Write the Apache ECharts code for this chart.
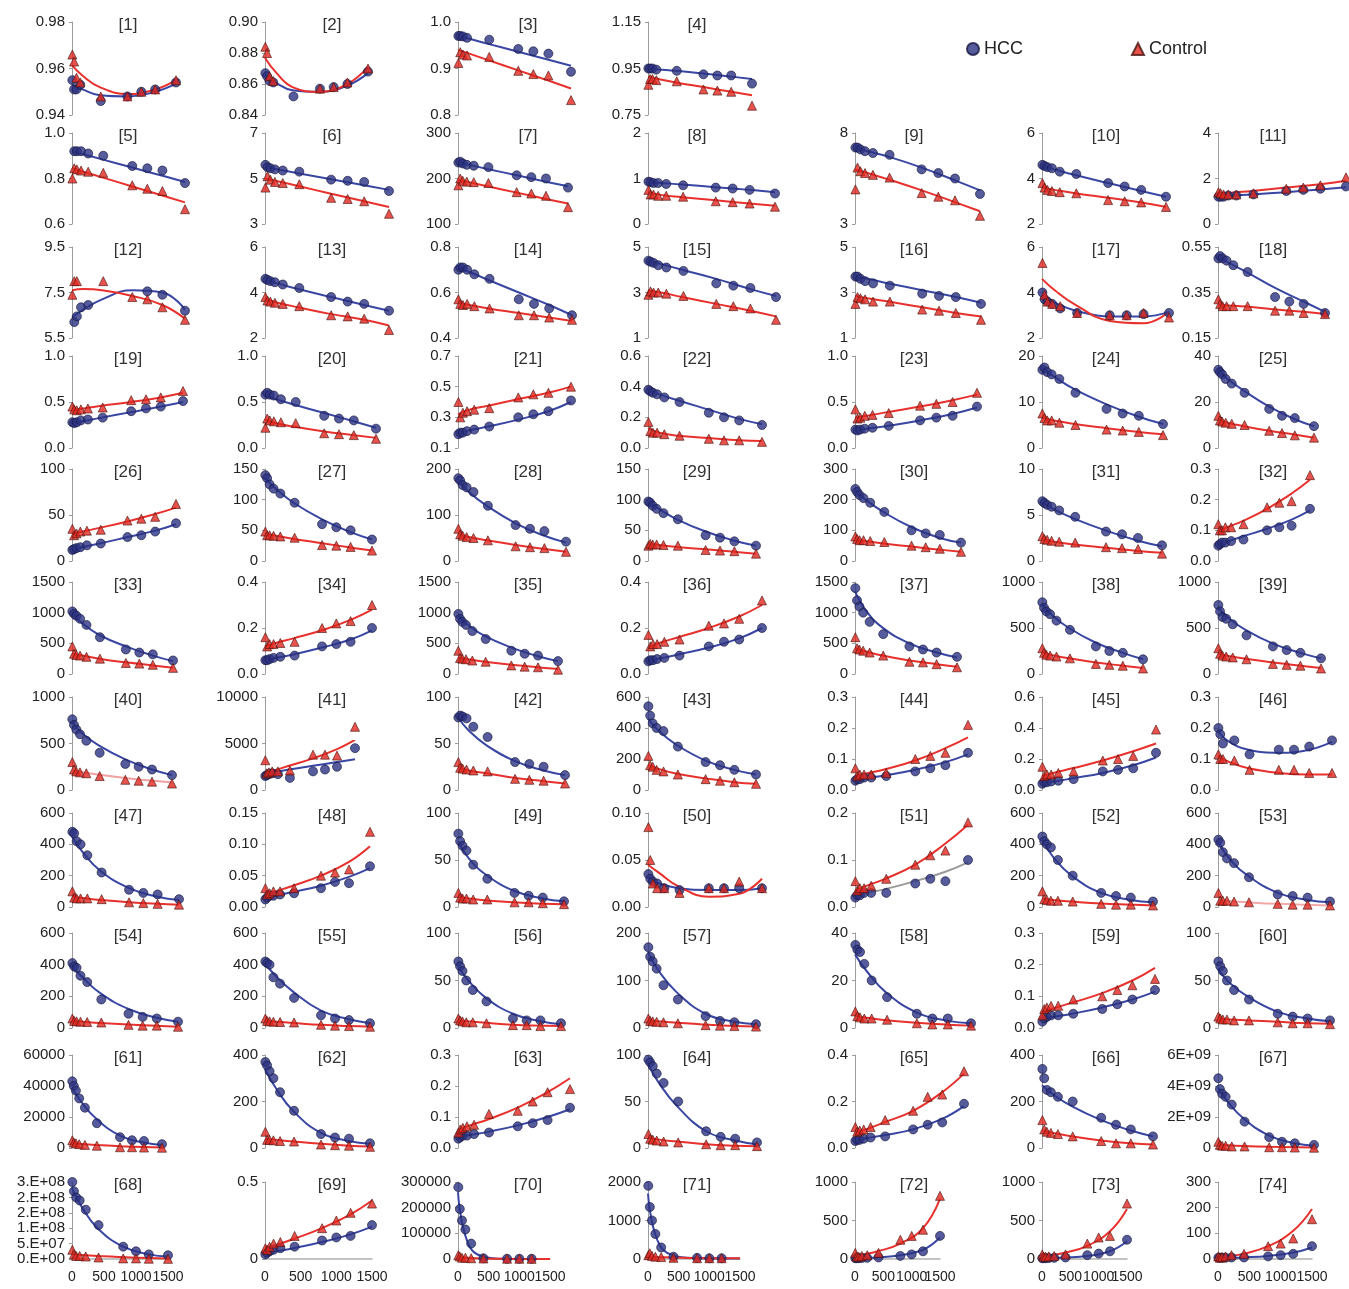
<!DOCTYPE html>
<html><head><meta charset="utf-8">
<script src="https://cdn.jsdelivr.net/npm/echarts@6/dist/echarts.min.js"></script>
<style>html,body{margin:0;padding:0;background:#fff}#c{width:1349px;height:1289px}</style>
</head><body><div id="c"></div>
<script>
// ---------- DATA ----------
// x positions (days) of the sampled points and of the trend-line knots
const X  = [5, 30, 65, 120, 215, 415, 800, 1000, 1200, 1500];
const TX = [0, 150, 400, 800, 1200, 1500];
const xTickValues = [0, 500, 1000, 1500];
const xTickLabels = ['0', '500', '1000', '1500'];
const seriesNames = ['HCC', 'Control'];

// y axis [min, max, step] per panel
const yRange = [
[0.94,0.98,0.02],[0.84,0.90,0.02],[0.8,1.0,0.1],[0.75,1.15,0.2],
[0.6,1.0,0.2],[3,7,2],[100,300,100],[0,2,1],[3,8,5],[2,6,2],[0,4,2],
[5.5,9.5,2],[2,6,2],[0.4,0.8,0.2],[1,5,2],[1,5,2],[2,6,2],[0.15,0.55,0.2],
[0,1,0.5],[0,1,0.5],[0.1,0.7,0.2],[0,0.6,0.2],[0,1,0.5],[0,20,10],[0,40,20],
[0,100,50],[0,150,50],[0,200,100],[0,150,50],[0,300,100],[0,10,5],[0,0.3,0.1],
[0,1500,500],[0,0.4,0.2],[0,1500,500],[0,0.4,0.2],[0,1500,500],[0,1000,500],[0,1000,500],
[0,1000,500],[0,10000,5000],[0,100,50],[0,600,200],[0,0.3,0.1],[0,0.6,0.2],[0,0.3,0.1],
[0,600,200],[0,0.15,0.05],[0,100,50],[0,0.1,0.05],[0,0.2,0.1],[0,600,200],[0,600,200],
[0,600,200],[0,600,200],[0,100,50],[0,200,100],[0,40,20],[0,0.3,0.1],[0,100,50],
[0,60000,20000],[0,400,200],[0,0.3,0.1],[0,100,50],[0,0.4,0.2],[0,400,200],[0,6e9,2e9],
[0,2.5e8,5e7],[0,0.5,0.5],[0,300000,100000],[0,2000,1000],[0,1000,500],[0,1000,500],[0,300,100]
];
// y tick labels per panel (bottom to top)
const yLabels = [
['0.94','0.96','0.98'],['0.84','0.86','0.88','0.90'],['0.8','0.9','1.0'],['0.75','0.95','1.15'],
['0.6','0.8','1.0'],['3','5','7'],['100','200','300'],['0','1','2'],['3','8'],['2','4','6'],['0','2','4'],
['5.5','7.5','9.5'],['2','4','6'],['0.4','0.6','0.8'],['1','3','5'],['1','3','5'],['2','4','6'],['0.15','0.35','0.55'],
['0.0','0.5','1.0'],['0.0','0.5','1.0'],['0.1','0.3','0.5','0.7'],['0.0','0.2','0.4','0.6'],['0.0','0.5','1.0'],['0','10','20'],['0','20','40'],
['0','50','100'],['0','50','100','150'],['0','100','200'],['0','50','100','150'],['0','100','200','300'],['0','5','10'],['0.0','0.1','0.2','0.3'],
['0','500','1000','1500'],['0.0','0.2','0.4'],['0','500','1000','1500'],['0.0','0.2','0.4'],['0','500','1000','1500'],['0','500','1000'],['0','500','1000'],
['0','500','1000'],['0','5000','10000'],['0','50','100'],['0','200','400','600'],['0.0','0.1','0.2','0.3'],['0.0','0.2','0.4','0.6'],['0.0','0.1','0.2','0.3'],
['0','200','400','600'],['0.00','0.05','0.10','0.15'],['0','50','100'],['0.00','0.05','0.10'],['0.0','0.1','0.2'],['0','200','400','600'],['0','200','400','600'],
['0','200','400','600'],['0','200','400','600'],['0','50','100'],['0','100','200'],['0','20','40'],['0.0','0.1','0.2','0.3'],['0','50','100'],
['0','20000','40000','60000'],['0','200','400'],['0.0','0.1','0.2','0.3'],['0','50','100'],['0.0','0.2','0.4'],['0','200','400'],['0','2E+09','4E+09','6E+09'],
['0.E+00','5.E+07','1.E+08','2.E+08','2.E+08','3.E+08'],['0','0.5'],['0','100000','200000','300000'],['0','1000','2000'],['0','500','1000'],['0','500','1000'],['0','100','200','300']
];

// HCC points at X
const hcc = [
[0.955,0.951,0.951,0.953,null,0.946,0.948,0.950,0.951,0.954],
[0.867,0.865,0.862,0.861,null,0.852,0.857,0.858,0.860,0.868],
[0.970,0.970,0.969,0.966,null,0.962,0.942,0.937,0.932,0.893],
[0.950,0.950,0.950,0.945,null,0.940,0.925,0.920,0.920,0.885],
[null,0.920,0.920,0.920,0.910,0.900,0.855,0.845,0.835,0.780],
[5.6,5.5,5.45,5.4,5.35,5.3,4.95,4.9,4.85,4.45],
[235,237,233,230,228,225,207,203,200,180],
[0.93,0.92,0.90,0.90,0.88,0.85,0.80,0.78,0.75,0.67],
[7.2,7.2,7.1,7.0,6.9,6.8,6.0,5.8,5.5,4.65],
[4.6,4.55,4.5,4.45,4.3,4.2,3.8,3.65,3.5,3.2],
[1.2,1.2,1.2,1.25,1.25,1.3,1.45,1.5,1.55,1.65],
[null,6.2,6.45,6.85,6.95,null,null,7.55,7.4,6.7],
[4.6,4.55,4.5,4.45,4.35,4.2,3.8,3.6,3.5,3.2],
[0.70,0.71,0.71,0.70,0.68,0.66,0.57,0.55,0.53,0.50],
[4.4,4.35,4.3,4.2,4.1,3.95,3.4,3.3,3.2,2.8],
[3.7,3.7,3.6,3.5,3.4,3.3,2.95,2.85,2.8,2.5],
[4.0,3.7,3.6,3.5,3.3,3.1,3.0,3.0,3.05,3.1],
[0.50,0.51,0.50,0.49,0.47,0.44,0.33,0.31,0.30,0.26],
[0.28,0.27,0.28,0.30,0.31,0.33,0.40,0.43,0.45,0.51],
[0.58,0.60,0.58,0.57,0.53,0.50,0.35,0.32,0.30,0.21],
[0.19,0.20,0.20,0.21,0.22,0.24,0.30,0.32,0.34,0.41],
[0.38,0.37,0.36,0.35,0.33,0.30,0.23,0.20,0.18,0.15],
[0.20,0.19,0.20,0.21,0.22,0.24,0.30,0.33,0.35,0.45],
[17,17.5,16.5,16,15,12,8.5,7.5,7,5.2],
[34,33,32,30,28,24,17,14,13,9.5],
[12,13,14,15,17,19,26,28,32,41],
[140,135,125,118,110,95,60,55,50,35],
[180,175,165,160,150,120,78,70,65,42],
[97,95,90,85,78,68,42,38,32,25],
[235,225,215,205,190,160,100,90,85,60],
[6.5,6.3,6.1,5.9,5.5,4.8,3.2,2.9,2.5,1.7],
[0.05,0.055,0.06,0.06,0.065,0.07,0.10,0.11,0.115,0.17],
[1020,980,950,900,800,600,400,350,320,220],
[0.06,0.06,0.065,0.07,0.075,0.08,0.12,0.13,0.14,0.20],
[980,900,850,800,700,570,380,330,300,210],
[0.055,0.06,0.06,0.065,0.07,0.08,0.12,0.14,0.15,0.20],
[1400,1200,1100,1000,850,650,450,400,350,280],
[780,720,680,650,580,480,300,250,230,160],
[750,680,620,600,540,420,300,260,230,170],
[760,700,650,600,530,400,280,250,220,160],
[1500,1600,1700,1800,1700,1300,2000,2200,2500,4500],
[78,80,79,77,68,57,30,28,25,16],
[540,480,430,400,380,280,180,160,130,100],
[0.03,0.035,0.035,0.04,0.04,0.045,0.06,0.07,0.08,0.12],
[0.04,0.05,0.05,0.055,0.06,0.07,0.12,0.13,0.14,0.24],
[0.20,0.18,0.15,null,0.16,0.115,0.13,0.13,0.14,0.16],
[480,470,420,400,330,220,110,90,80,50],
[0.012,0.015,0.018,0.018,0.02,0.022,0.03,0.04,0.038,0.065],
[78,70,65,60,45,30,15,12,10,6],
[0.035,0.03,0.027,0.025,0.02,0.018,0.02,0.02,0.02,0.02],
[0.02,0.025,0.025,0.03,0.03,0.03,0.05,0.06,0.055,0.10],
[450,420,400,380,300,200,90,70,60,35],
[430,410,350,310,280,190,80,70,60,35],
[410,390,380,330,290,180,90,70,60,40],
[420,410,400,320,280,190,80,60,50,30],
[70,65,60,50,40,28,10,8,8,5],
[170,150,140,125,90,60,25,15,12,8],
[35,33,32,27,20,13,6,4,4,2],
[0.02,0.03,0.035,0.04,0.04,0.045,0.06,0.075,0.09,0.12],
[70,65,60,50,40,30,15,12,10,8],
[43000,40000,37000,32000,26000,16000,7000,5000,4500,2500],
[370,355,330,300,240,160,60,45,40,20],
[0.03,0.035,0.04,0.04,0.045,0.05,0.07,0.08,0.09,0.13],
[95,92,88,80,70,50,18,12,10,6],
[0.03,0.035,0.035,0.04,0.045,0.05,0.08,0.10,0.11,0.19],
[340,300,250,240,220,200,130,100,80,50],
[4.5e9,3.8e9,3.5e9,3.3e9,2.8e9,1.7e9,0.7e9,0.4e9,0.3e9,0.2e9],
[2.5e8,2.2e8,2.0e8,1.9e8,1.6e8,1.1e8,0.4e8,0.25e8,0.15e8,0.12e8],
[0.03,0.04,0.05,0.06,0.07,0.08,0.12,0.14,0.15,0.22],
[280000,195000,150000,115000,60000,3000,1000,1000,1000,null],
[1900,1350,1000,650,300,60,30,20,20,null],
[10,10,10,12,15,20,40,60,100,300],
[10,10,10,12,15,20,50,70,100,250],
[5,5,5,5,6,6,10,15,20,50]
];

// Control points at X
const control = [
[0.966,0.963,0.956,0.954,null,0.948,0.948,0.950,0.951,0.955],
[0.884,0.880,0.865,0.862,null,null,0.857,0.858,0.861,0.870],
[0.912,0.935,0.930,0.928,null,0.925,0.895,0.888,0.885,0.832],
[0.880,0.905,0.905,0.900,null,0.895,0.860,0.855,0.850,0.790],
[0.800,0.845,0.840,0.835,0.830,0.825,0.770,0.755,0.745,0.665],
[4.6,5.1,4.95,4.85,4.8,4.75,4.15,4.1,4.0,3.45],
[185,200,195,193,192,190,170,167,162,137],
[0.75,0.65,0.65,0.62,0.62,0.60,0.50,0.48,0.45,0.38],
[4.9,6.1,5.9,5.8,5.7,5.55,4.7,4.5,4.3,3.45],
[3.8,3.6,3.5,3.45,3.4,3.35,3.05,3.0,2.95,2.75],
[1.4,1.35,1.3,1.3,1.3,1.35,1.55,1.6,1.7,2.05],
[7.4,8.0,8.0,null,null,8.0,7.3,7.2,6.85,6.3],
[3.8,3.65,3.6,3.55,3.5,3.4,3.0,2.95,2.85,2.35],
[0.57,0.55,0.545,0.55,0.54,0.53,0.50,0.50,0.49,0.48],
[2.9,3.05,3.0,3.0,2.95,2.85,2.5,2.4,2.3,1.8],
[2.5,2.8,2.75,2.7,2.6,2.6,2.25,2.2,2.1,1.8],
[5.3,3.9,3.6,3.5,3.4,3.1,3.0,3.0,3.1,2.9],
[0.32,0.30,0.29,0.29,0.29,0.29,0.27,0.27,0.26,0.255],
[0.45,0.42,0.41,0.42,0.43,0.44,0.52,0.53,0.55,0.62],
[0.22,0.32,0.30,0.29,0.28,0.27,0.16,0.15,0.14,0.10],
[0.40,0.30,0.33,0.34,0.35,0.36,0.43,0.45,0.46,0.50],
[0.17,0.11,0.10,0.10,0.09,0.08,0.06,0.05,0.05,0.04],
[0.42,0.32,0.33,0.35,0.36,0.38,0.46,0.48,0.50,0.60],
[7.5,6.5,6.0,6.0,5.5,5.0,4.0,3.8,3.5,2.8],
[14,12,11.5,11,10.5,10,7.5,6.5,5.5,4.5],
[35,28,30,32,33,34,44,46,48,62],
[48,42,42,41,40,38,26,25,23,17],
[70,58,55,52,50,45,32,30,28,20],
[25,28,27,27,26,25,18,17,16,12],
[80,72,68,68,65,62,50,45,40,30],
[2.7,2.4,2.3,2.2,2.1,2.0,1.5,1.4,1.3,0.8],
[0.12,0.10,0.10,0.11,0.11,0.12,0.175,0.19,0.195,0.28],
[450,330,310,300,280,250,180,170,150,100],
[0.16,0.12,0.13,0.13,0.135,0.14,0.20,0.22,0.23,0.30],
[380,260,250,240,220,200,140,120,110,70],
[0.17,0.12,0.13,0.13,0.14,0.15,0.21,0.22,0.24,0.32],
[600,420,400,380,350,300,200,190,160,110],
[280,230,210,200,190,170,110,100,90,60],
[280,220,200,190,180,160,110,100,90,60],
[300,220,200,190,180,150,110,100,90,70],
[3200,1800,1900,2000,2000,2100,3800,3800,3700,6800],
[30,24,23,22,21,20,12,11,10,7],
[220,160,150,130,120,100,70,60,50,40],
[0.07,0.045,0.05,0.05,0.05,0.055,0.10,0.11,0.12,0.21],
[0.15,0.09,0.10,0.10,0.11,0.12,0.19,0.20,0.22,0.39],
[0.115,0.10,0.10,null,0.095,0.065,0.065,0.065,0.055,0.055],
[100,60,55,55,55,50,30,25,20,15],
[0.03,0.02,0.022,0.025,0.025,0.03,0.05,0.055,0.06,0.12],
[15,10,9,9,8,8,5,5,4,3],
[0.085,0.05,0.025,0.02,0.02,0.015,0.02,0.02,0.027,0.02],
[0.055,0.035,0.04,0.04,0.045,0.06,0.09,0.11,0.12,0.18],
[100,50,45,40,40,35,20,15,15,10],
[90,40,40,40,35,30,20,15,15,10],
[60,45,42,40,38,35,20,15,15,8],
[60,45,42,40,38,35,20,15,12,8],
[10,8,7,6,6,5,3,3,2,2],
[20,15,14,13,12,10,6,5,4,3],
[7,5,4.5,4,4,3.5,2,1.5,1.5,1],
[0.04,0.06,0.065,0.07,0.07,0.09,0.10,0.12,0.135,0.155],
[12,10,9,9,8,8,6,5,5,4],
[5000,3500,3000,2500,2000,1500,500,500,300,200],
[70,35,35,33,30,28,15,12,10,5],
[0.05,0.06,0.065,0.07,0.075,0.11,0.12,0.15,0.18,0.19],
[15,10,9,8,7,6,4,3,3,2],
[0.09,0.07,0.075,0.08,0.09,0.12,0.16,0.22,0.23,0.33],
[120,80,70,65,60,50,30,20,20,15],
[0.4e9,0.2e9,0.15e9,0.15e9,0.1e9,0.1e9,0.05e9,0.05e9,0.03e9,0.02e9],
[0.3e8,0.15e8,0.1e8,0.1e8,0.08e8,0.05e8,0.02e8,0.02e8,0.01e8,0.005e8],
[0.07,0.06,0.08,0.10,0.11,0.15,0.20,0.25,0.30,0.36],
[15000,10000,5000,5000,3000,2000,1000,1000,500,null],
[100,150,80,60,50,30,20,20,20,null],
[80,30,30,40,50,80,250,300,380,820],
[60,30,30,35,40,60,200,280,300,720],
[10,5,8,10,15,20,50,60,80,155]
];

// trend-line values read at TX
const hccTrend = [
[0.953,0.951,0.9485,0.948,0.950,0.9535],[0.866,0.861,0.856,0.855,0.859,0.867],
[0.970,0.964,0.953,0.936,0.919,0.906],[0.950,0.946,0.940,0.928,0.915,0.905],
[0.920,0.9065,0.884,0.848,0.812,0.785],[5.5,5.4,5.23,4.97,4.7,4.5],[235,230,221,207,193,183],
[0.92,0.90,0.87,0.81,0.75,0.70],[7.2,7.0,6.7,6.1,5.4,4.85],[4.55,4.4,4.15,3.8,3.45,3.2],
[1.2,1.25,1.3,1.4,1.52,1.62],
[6.4,6.75,7.2,7.6,7.5,6.75],[4.55,4.4,4.15,3.8,3.45,3.2],[0.71,0.69,0.655,0.60,0.545,0.50],
[4.4,4.25,4.0,3.6,3.15,2.85],[3.7,3.6,3.4,3.1,2.8,2.55],[3.9,3.55,3.2,2.95,2.95,3.15],
[0.505,0.48,0.44,0.37,0.31,0.265],
[0.27,0.29,0.33,0.39,0.45,0.50],[0.57,0.53,0.47,0.38,0.29,0.22],[0.19,0.215,0.24,0.285,0.34,0.40],
[0.38,0.35,0.31,0.25,0.19,0.155],[0.19,0.21,0.24,0.30,0.37,0.44],[17.3,15.5,12.8,9.5,6.8,5.2],
[34,30,25,18,12.5,9.5],
[12,15,19,26,33,40],[135,118,95,68,47,35],[175,150,120,82,55,40],[97,85,68,48,33,25],
[230,200,160,110,75,60],[6.4,5.6,4.6,3.3,2.2,1.6],[0.052,0.063,0.08,0.105,0.135,0.165],
[990,830,640,450,300,210],[0.06,0.07,0.085,0.115,0.15,0.19],[950,800,620,430,290,210],
[0.055,0.067,0.085,0.115,0.155,0.20],[1350,1050,760,500,350,270],[760,640,500,340,230,160],
[720,610,480,330,230,170],
[730,610,480,330,220,160],[1700,1900,2200,2600,3000,3300],[78,64,48,31,21,16],
[460,380,290,190,130,100],[0.032,0.038,0.047,0.065,0.09,0.115],[0.045,0.055,0.075,0.11,0.16,0.21],
[0.19,0.155,0.13,0.12,0.13,0.155],
[450,350,230,120,65,45],[0.014,0.018,0.024,0.034,0.048,0.062],[70,52,34,17,9,6],
[0.032,0.025,0.02,0.018,0.018,0.02],[0.025,0.03,0.038,0.055,0.075,0.095],[430,320,200,90,45,30],
[420,310,200,90,45,30],
[390,320,220,120,65,40],[410,330,230,110,55,30],[65,50,32,15,7,4],[160,120,75,30,13,8],
[31,24,15,6.5,3,2],[0.028,0.035,0.045,0.065,0.09,0.115],[62,48,33,17,10,7],
[39000,30000,19000,8000,3500,2000],[340,260,160,65,30,18],[0.035,0.042,0.052,0.073,0.10,0.125],
[90,70,45,18,8,4],[0.035,0.042,0.055,0.08,0.125,0.18],[270,230,180,120,75,50],
[3.9e9,3.0e9,1.9e9,0.8e9,0.3e9,0.15e9],
[2.3e8,1.7e8,1.0e8,0.4e8,0.15e8,0.08e8],[0.04,0.05,0.07,0.11,0.16,0.21],[260000,70000,10000,500,0,0],
[1700,500,100,20,10,10],[10,12,20,50,120,280],[10,12,18,40,100,230],[3,4,6,12,25,45]
];
const controlTrend = [
[0.9615,0.957,0.952,0.949,0.951,0.955],[0.877,0.868,0.858,0.855,0.860,0.871],
[0.940,0.932,0.918,0.896,0.874,0.857],[0.915,0.905,0.890,0.870,0.850,0.835],
[0.845,0.83,0.805,0.765,0.725,0.695],[5.0,4.88,4.67,4.33,4.0,3.75],[197,192,183,169,155,145],
[0.70,0.64,0.59,0.52,0.45,0.40],[6.0,5.8,5.45,4.85,4.2,3.7],[3.6,3.5,3.35,3.15,2.95,2.75],
[1.3,1.37,1.45,1.6,1.75,1.9],
[7.6,7.65,7.6,7.35,6.95,6.35],[3.7,3.55,3.35,3.05,2.8,2.55],[0.555,0.545,0.53,0.51,0.49,0.475],
[3.1,3.0,2.8,2.5,2.2,1.95],[2.85,2.75,2.6,2.35,2.1,1.95],[4.6,4.1,3.45,2.75,2.65,3.15],
[0.295,0.293,0.288,0.275,0.265,0.255],
[0.41,0.43,0.46,0.50,0.55,0.60],[0.31,0.27,0.23,0.18,0.14,0.11],[0.32,0.35,0.375,0.42,0.46,0.50],
[0.13,0.10,0.08,0.065,0.05,0.045],[0.33,0.35,0.39,0.45,0.52,0.58],[6.5,6.0,5.2,4.3,3.5,3.0],
[12.5,11,9.5,7.5,5.8,4.5],
[29,32,36,43,51,58],[45,41,36,29,22,17],[58,52,45,35,26,20],[29,26,23,19,15,12],
[70,65,57,47,37,30],[2.4,2.1,1.8,1.45,1.1,0.9],[0.095,0.11,0.13,0.17,0.22,0.265],
[330,300,250,190,140,100],[0.12,0.135,0.155,0.19,0.235,0.28],[270,240,200,150,110,80],
[0.115,0.135,0.16,0.20,0.25,0.30],[420,370,300,220,160,120],[230,205,170,125,90,65],
[220,195,165,125,90,65],
[210,190,165,130,100,80],[1800,2100,2600,3400,4400,5400],[24,21,18,13,9.5,7],
[160,135,105,75,50,40],[0.045,0.053,0.067,0.095,0.135,0.17],[0.09,0.11,0.14,0.19,0.25,0.30],
[0.11,0.09,0.07,0.055,0.05,0.05],
[65,57,45,30,20,15],[0.02,0.025,0.034,0.05,0.072,0.097],[11,9,7,5,3.5,3],
[0.045,0.036,0.022,0.011,0.014,0.03],[0.035,0.045,0.06,0.09,0.135,0.175],[55,45,35,22,15,10],
[45,38,30,20,14,10],
[45,40,32,22,14,8],[45,40,32,20,12,8],[8,7,5.5,3.5,2.5,2],[16,14,11,7,4,3],
[5,4.3,3.3,2.2,1.4,1],[0.05,0.062,0.08,0.11,0.15,0.19],[10,9,8,6.5,5,4.5],
[3000,2600,2000,1200,600,300],[40,35,28,18,10,6],[0.058,0.072,0.092,0.13,0.18,0.225],
[11,9,7,4,2.5,2],[0.065,0.08,0.11,0.16,0.24,0.32],[75,65,50,32,20,15],
[0.2e9,0.17e9,0.13e9,0.08e9,0.05e9,0.03e9],
[0.15e8,0.13e8,0.1e8,0.06e8,0.03e8,0.02e8],[0.07,0.09,0.13,0.20,0.29,0.38],[8000,5000,2000,500,200,100],
[60,50,40,25,20,20],[40,60,100,200,400,780],[30,45,80,170,360,650],[5,10,20,50,110,195]
];

// ---------- LAYOUT / STYLE ----------
const colX   = [72, 265, 458, 648, 855, 1042, 1218];
const titleX = [128, 332, 528, 697, 914, 1106, 1273];
const rowTB  = [[22,115],[133,224],[247,338],[356,448],[469,561],[582,674],[697,790],[813,907],[933,1028],[1055,1148],[1182,1259]];
const plotW  = [104,103,113,104,
 113,124,110,127,125,124,128,
 113,124,114,128,126,127,107,
 111,111,113,114,122,121,96,
 104,107,108,108,106,120,92,
 101,107,100,114,102,101,103,
 100,90,107,108,113,114,114,
 107,105,106,114,113,111,112,
 106,105,103,108,116,113,112,
 90,105,112,109,109,111,96,
 96,107,92,92,85,85,94];
const FONT = '"Liberation Sans", Arial, Helvetica, sans-serif';
const AXIS = '#9c9c9c';
const BLUE_PT = '#2c3282', RED_PT = '#e2271f';
const BLUE_LN = '#3946a3', RED_LN = '#e8302c';
const lineOverride = {50: {h: '#9a9a9a'}, 39: {c: '#f2a0a0'}, 52: {c: '#f4a8a8'}}; // 0-based panel index

const grids = [], xAxes = [], extraX = [], yAxes = [], series = [], graphics = [];
function xLabelAxis(i, vals, showLine) {
  return {
    gridIndex: i, type: 'value', min: 0, max: 1500, position: 'bottom', offset: 0, show: true,
    axisLine: {show: showLine, onZero: false, lineStyle: {color: '#b0b0b0', width: 1.5}},
    axisTick: {show: false},
    axisLabel: {show: true, customValues: vals, margin: 11, fontSize: 14, color: '#222', fontFamily: FONT,
      hideOverlap: false, showMinLabel: true, showMaxLabel: true,
      formatter: (v) => xTickLabels[xTickValues.indexOf(Math.round(v))]},
    splitLine: {show: false}
  };
}
for (let i = 0; i < 74; i++) {
  let row, col;
  if (i < 4) { row = 0; col = i; } else { row = 1 + Math.floor((i - 4) / 7); col = (i - 4) % 7; }
  const [top, bottom] = rowTB[row];
  grids.push({left: colX[col], top: top, width: plotW[i], height: bottom - top, containLabel: false, outerBoundsMode: 'none'});
  const [mn, mx, st] = yRange[i];
  const labs = yLabels[i];
  const vals = labs.map((_, k) => +(mn + k * st).toPrecision(12));
  yAxes.push({
    gridIndex: i, type: 'value', min: mn, max: mx,
    axisLine: {show: true, lineStyle: {color: AXIS, width: 1}},
    axisTick: {show: true, length: 3, customValues: vals, lineStyle: {color: AXIS}},
    axisLabel: {customValues: vals, margin: 7, fontSize: 15, color: '#222', fontFamily: FONT,
      formatter: (v) => { const k = Math.round((v - mn) / st); return labs[k] !== undefined ? labs[k] : ''; }},
    splitLine: {show: false}
  });
  const bottomRow = row === 10;
  if (bottomRow) {
    // two label axes so that the tightly packed tick labels are never dropped
    xAxes.push(xLabelAxis(i, [xTickValues[0], xTickValues[2]], true));
    extraX.push(xLabelAxis(i, [xTickValues[1], xTickValues[3]], false));
  } else {
    xAxes.push({gridIndex: i, type: 'value', min: 0, max: 1500, show: false, splitLine: {show: false}});
  }
  const ov = lineOverride[i] || {};
  series.push({
    type: 'line', name: 'HCC trend', xAxisIndex: i, yAxisIndex: i, smooth: 0.45, symbol: 'none', z: 2,
    lineStyle: {color: ov.h || BLUE_LN, width: 2}, silent: true,
    data: TX.map((x, j) => [x, hccTrend[i][j]])
  });
  series.push({
    type: 'line', name: 'Control trend', xAxisIndex: i, yAxisIndex: i, smooth: 0.45, symbol: 'none', z: 2,
    lineStyle: {color: ov.c || RED_LN, width: 2}, silent: true,
    data: TX.map((x, j) => [x, controlTrend[i][j]])
  });
  series.push({
    type: 'scatter', name: seriesNames[0], xAxisIndex: i, yAxisIndex: i, symbol: 'circle', symbolSize: 9, z: 3,
    itemStyle: {color: BLUE_PT, borderColor: '#15173d', borderWidth: 0.8},
    data: X.map((x, j) => [x, hcc[i][j]]).filter(d => d[1] !== null)
  });
  series.push({
    type: 'scatter', name: seriesNames[1], xAxisIndex: i, yAxisIndex: i, symbol: 'triangle', symbolSize: 9, z: 4,
    itemStyle: {color: RED_PT, borderColor: '#4a1410', borderWidth: 0.8},
    data: X.map((x, j) => [x, control[i][j]]).filter(d => d[1] !== null)
  });
  graphics.push({
    type: 'text', x: titleX[col], y: top + 3, silent: true,
    style: {text: '[' + (i + 1) + ']', fill: '#333', font: '17px ' + FONT,
      align: 'center', verticalAlign: 'middle', textAlign: 'center', textVerticalAlign: 'middle'}
  });
}

const chart = echarts.init(document.getElementById('c'), null, {renderer: 'canvas', width: 1349, height: 1289});
chart.setOption({
  animation: false,
  backgroundColor: '#ffffff',
  textStyle: {fontFamily: FONT},
  legend: {
    left: 966, top: 40, itemWidth: 12, itemHeight: 12, itemGap: 108, padding: 0,
    textStyle: {fontSize: 18, color: '#222', fontFamily: FONT},
    data: [{name: 'HCC', icon: 'circle'}, {name: 'Control', icon: 'triangle'}]
  },
  grid: grids, xAxis: xAxes.concat(extraX), yAxis: yAxes, series: series, graphic: graphics
});
</script>
</body></html>
